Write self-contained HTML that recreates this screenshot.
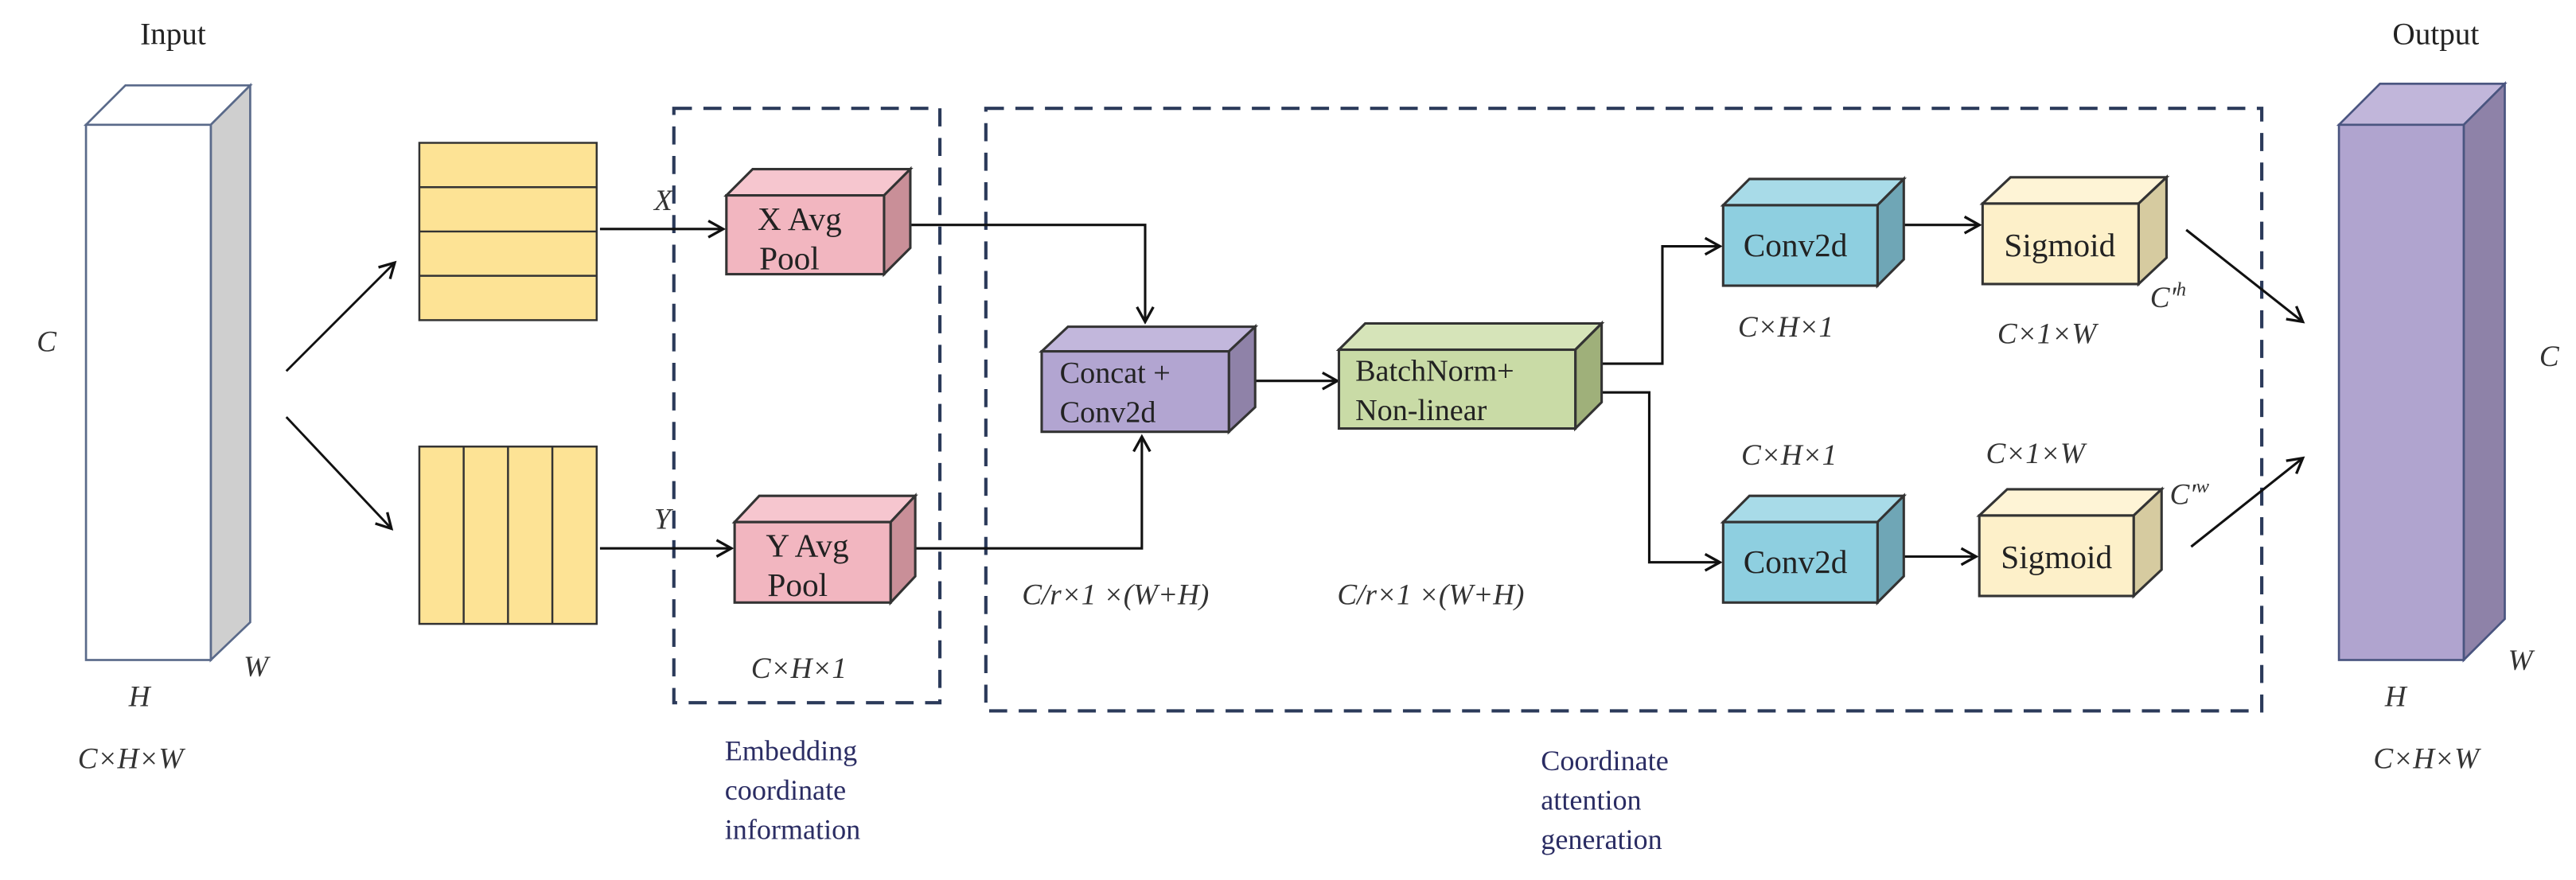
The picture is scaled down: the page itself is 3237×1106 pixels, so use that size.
<!DOCTYPE html>
<html><head><meta charset="utf-8"><style>
html,body{margin:0;padding:0;background:#fff}
svg{display:block}
text{font-family:"Liberation Serif",serif;fill:#222}
.it{font-style:italic;fill:#333}
.nv{fill:#2a2c63}
</style></head><body>
<svg width="3237" height="1106" viewBox="0 0 1568 536" xmlns="http://www.w3.org/2000/svg">
<defs>
<marker id="a" markerWidth="12" markerHeight="12" refX="10" refY="6" orient="auto" markerUnits="userSpaceOnUse">
<path d="M1,1 L10,6 L1,11" fill="none" stroke="#111" stroke-width="1.6"/></marker>
</defs>
<!-- Input -->
<text x="105" y="27" font-size="19" text-anchor="middle">Input</text>
<g stroke="#5a6a8a" stroke-width="1.3">
<polygon points="52,76 76,52 152,52 128,76" fill="#fff"/>
<polygon points="128,76 152,52 152,379 128,402" fill="#cfcfcf"/>
<rect x="52" y="76" width="76" height="326" fill="#fff"/>
</g>
<text x="22" y="214" font-size="18" class="it">C</text>
<text x="78" y="430" font-size="18" class="it">H</text>
<text x="148" y="412" font-size="18" class="it">W</text>
<text x="47" y="468" font-size="18" class="it">C×H×W</text>
<g stroke="#111" stroke-width="1.4" fill="none" marker-end="url(#a)">
<line x1="174" y1="226" x2="240" y2="160"/>
<line x1="174" y1="254" x2="238" y2="322"/>
</g>
<!-- Yellow -->
<g stroke="#333" stroke-width="1.2" fill="#fde395">
<rect x="255" y="87" width="108" height="108"/>
<line x1="255" y1="114" x2="363" y2="114"/><line x1="255" y1="141" x2="363" y2="141"/><line x1="255" y1="168" x2="363" y2="168"/>
<rect x="255" y="272" width="108" height="108"/>
<line x1="282" y1="272" x2="282" y2="380"/><line x1="309" y1="272" x2="309" y2="380"/><line x1="336" y1="272" x2="336" y2="380"/>
</g>
<!-- dashed boxes -->
<g fill="none" stroke="#2b3a5a" stroke-width="2" stroke-dasharray="11,7">
<rect x="410" y="66" width="162" height="362"/>
<rect x="600" y="66" width="777" height="367"/>
</g>
<text x="398" y="128" font-size="18" class="it">X</text>
<text x="398" y="322" font-size="18" class="it">Y</text>
<g stroke="#111" stroke-width="1.5" fill="none" marker-end="url(#a)">
<line x1="365" y1="139.5" x2="440" y2="139.5"/>
<line x1="365" y1="334" x2="445" y2="334"/>
<polyline points="554,137 697,137 697,196"/>
<polyline points="557,334 695,334 695,266"/>
<line x1="764" y1="232" x2="814" y2="232"/>
<polyline points="975,221.5 1012,221.5 1012,150 1047,150"/>
<polyline points="959,239 1004,239 1004,342.5 1047,342.5"/>
<line x1="1159" y1="137" x2="1205" y2="137"/>
<line x1="1159" y1="339" x2="1203" y2="339"/>
<line x1="1331" y1="140" x2="1402" y2="196"/>
<line x1="1334" y1="333" x2="1402" y2="279"/>
</g>
<!-- 3D boxes -->
<g stroke="#333" stroke-width="1.5">
<polygon points="442,119 458,103 554,103 538,119" fill="#f6c6cf"/><polygon points="538,119 554,103 554,151 538,167" fill="#c98f98"/><rect x="442" y="119" width="96" height="48" fill="#f2b6c0"/>
<polygon points="447,318 462,302 557,302 542,318" fill="#f6c6cf"/><polygon points="542,318 557,302 557,351 542,367" fill="#c98f98"/><rect x="447" y="318" width="95" height="49" fill="#f2b6c0"/>
<polygon points="634,214 650,199 764,199 748,214" fill="#c2b7dc"/><polygon points="748,214 764,199 764,248 748,263" fill="#8f82a8"/><rect x="634" y="214" width="114" height="49" fill="#b2a5d1"/>
<polygon points="815,213 831,197 975,197 959,213" fill="#d6e4b9"/><polygon points="959,213 975,197 975,245 959,261" fill="#9fb07a"/><rect x="815" y="213" width="144" height="48" fill="#c9dba6"/>
<polygon points="1049,125 1065,109 1159,109 1143,125" fill="#a8dbe8"/><polygon points="1143,125 1159,109 1159,158 1143,174" fill="#6fa6b6"/><rect x="1049" y="125" width="94" height="49" fill="#8ecfe0"/>
<polygon points="1049,318 1065,302 1159,302 1143,318" fill="#a8dbe8"/><polygon points="1143,318 1159,302 1159,351 1143,367" fill="#6fa6b6"/><rect x="1049" y="318" width="94" height="49" fill="#8ecfe0"/>
<polygon points="1207,124 1224,108 1319,108 1302,124" fill="#fef4d6"/><polygon points="1302,124 1319,108 1319,157 1302,173" fill="#d6cba0"/><rect x="1207" y="124" width="95" height="49" fill="#fdf0c9"/>
<polygon points="1205,314 1222,298 1316,298 1299,314" fill="#fef4d6"/><polygon points="1299,314 1316,298 1316,347 1299,363" fill="#d6cba0"/><rect x="1205" y="314" width="94" height="49" fill="#fdf0c9"/>
</g>
<g font-size="20">
<text x="461" y="140">X Avg</text><text x="462" y="164">Pool</text>
<text x="466" y="339">Y Avg</text><text x="467" y="363">Pool</text>
<text x="1093" y="156" text-anchor="middle">Conv2d</text>
<text x="1093" y="349" text-anchor="middle">Conv2d</text>
<text x="1254" y="156" text-anchor="middle">Sigmoid</text>
<text x="1252" y="346" text-anchor="middle">Sigmoid</text>
</g>
<g font-size="18.5">
<text x="645" y="233">Concat +</text><text x="645" y="257">Conv2d</text>
<text x="825" y="232">BatchNorm+</text><text x="825" y="256">Non-linear</text>
</g>
<g font-size="18">
<text x="457" y="413" class="it">C×H×1</text>
<text x="622" y="368" class="it">C/r×1 ×(W+H)</text>
<text x="814" y="368" class="it">C/r×1 ×(W+H)</text>
<text x="1058" y="205" class="it">C×H×1</text>
<text x="1216" y="209" class="it">C×1×W</text>
<text x="1060" y="283" class="it">C×H×1</text>
<text x="1209" y="282" class="it">C×1×W</text>
<text x="1309" y="187" class="it">C′<tspan font-size="12" dy="-7">h</tspan></text>
<text x="1321" y="307" class="it">C′<tspan font-size="12" dy="-7">w</tspan></text>
</g>
<g font-size="17.5">
<text x="441" y="463" class="nv">Embedding</text><text x="441" y="487" class="nv">coordinate</text><text x="441" y="511" class="nv">information</text>
<text x="938" y="469" class="nv">Coordinate</text><text x="938" y="493" class="nv">attention</text><text x="938" y="517" class="nv">generation</text>
</g>
<!-- Output -->
<text x="1483" y="27" font-size="19" text-anchor="middle">Output</text>
<g stroke="#4a5580" stroke-width="1.3">
<polygon points="1424,76 1449,51 1525,51 1500,76" fill="#c1b6da"/>
<polygon points="1500,76 1525,51 1525,377 1500,402" fill="#8e82a8"/>
<rect x="1424" y="76" width="76" height="326" fill="#b0a4cf"/>
</g>
<text x="1546" y="223" font-size="18" class="it">C</text>
<text x="1452" y="430" font-size="18" class="it">H</text>
<text x="1527" y="408" font-size="18" class="it">W</text>
<text x="1445" y="468" font-size="18" class="it">C×H×W</text>
</svg>
</body></html>
